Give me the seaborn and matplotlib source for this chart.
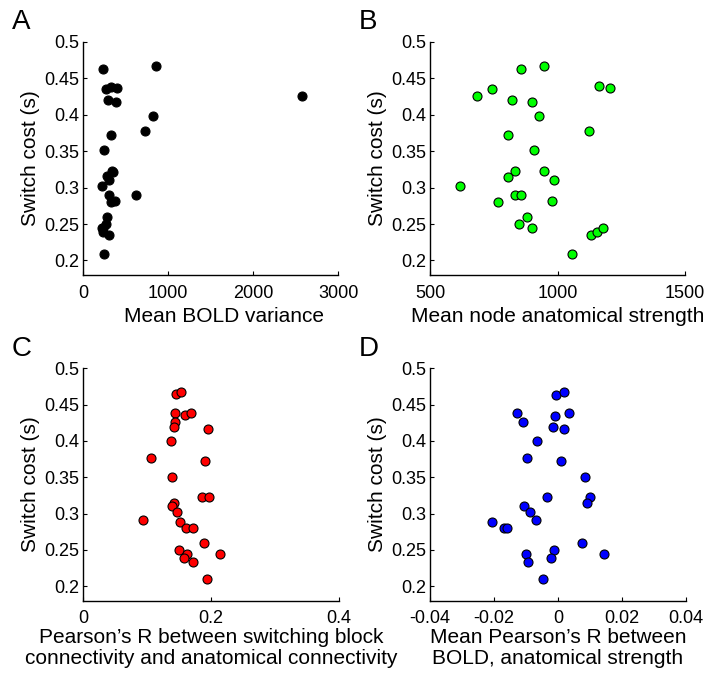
import matplotlib
matplotlib.use("Agg")
from matplotlib import pyplot as plt
import numpy as np
import pandas as pd
import seaborn as sns

# switch cost per subject
cost_a = [0.4635, 0.4667, 0.4348, 0.4384, 0.4365, 0.4197, 0.417, 0.399, 0.378, 0.372,
          0.351, 0.322, 0.3226, 0.3153, 0.310, 0.3025, 0.2897, 0.2897, 0.280, 0.281,
          0.2592, 0.250, 0.244, 0.2442, 0.2396, 0.235, 0.209, 0.4265]
bold_var = [228, 855, 263, 326, 393, 294, 385, 824, 730, 326,
            244, 349, 335, 283, 302, 224, 302, 616, 322, 373,
            283, 267, 216, 228, 235, 306, 244, 2569]

cost_b = [0.4635, 0.4672, 0.4389, 0.437, 0.4357, 0.4265, 0.4197, 0.417, 0.399, 0.378,
          0.372, 0.351, 0.3226, 0.3226, 0.3148, 0.3103, 0.3025, 0.2893, 0.2902, 0.2798,
          0.2811, 0.2592, 0.250, 0.2442, 0.235, 0.2387, 0.2442, 0.209]
anat_strength = [856, 948, 1164, 1206, 744, 683, 822, 898, 928, 1122,
                 807, 906, 948, 834, 807, 987, 618, 833, 856, 765,
                 979, 880, 849, 900, 1133, 1156, 1179, 1057]

cost_c = [0.4643, 0.468, 0.4383, 0.4355, 0.4383, 0.4263, 0.419, 0.4163, 0.4003, 0.377,
          0.372, 0.3505, 0.3235, 0.3235, 0.3148, 0.311, 0.3015, 0.2905, 0.2882, 0.280,
          0.280, 0.2599, 0.2503, 0.2448, 0.2439, 0.2384, 0.2339, 0.210]
r_switch_anat = [0.1453, 0.1531, 0.1443, 0.1589, 0.1688, 0.1438, 0.1422, 0.1948, 0.138, 0.1058,
                 0.1912, 0.1396, 0.185, 0.1964, 0.1417, 0.139, 0.1469, 0.0938, 0.1516, 0.1615,
                 0.1719, 0.1896, 0.1495, 0.2146, 0.162, 0.1573, 0.1719, 0.1943]

cost_d = [0.4638, 0.468, 0.4383, 0.4383, 0.435, 0.4259, 0.419, 0.4163, 0.4003, 0.377,
          0.372, 0.3505, 0.3235, 0.3235, 0.315, 0.311, 0.3015, 0.2905, 0.2882, 0.280,
          0.280, 0.2599, 0.2503, 0.2448, 0.2439, 0.2384, 0.2339, 0.210]
r_bold_anat = [-0.0006, 0.002, -0.0128, 0.0034, -0.0008, -0.0109, -0.0015, 0.0019, -0.0064, -0.0096,
               0.001, 0.0086, 0.0099, -0.0034, 0.0092, -0.0107, -0.0086, -0.0067, -0.0206, -0.0168,
               -0.0158, 0.0074, -0.0012, 0.0144, -0.01, -0.0021, -0.0092, -0.0048]

y_ticks = [0.2, 0.25, 0.3, 0.35, 0.4, 0.45, 0.5]
y_ticklabels = ["0.2", "0.25", "0.3", "0.35", "0.4", "0.45", "0.5"]

sns.set_style("ticks")
plt.rcParams["font.family"] = ["Liberation Sans", "DejaVu Sans"]
plt.rcParams["xtick.direction"] = "in"
plt.rcParams["ytick.direction"] = "in"
plt.rcParams["text.color"] = "black"
plt.rcParams["axes.labelcolor"] = "black"

fig = plt.figure(figsize=(7.18, 6.75), dpi=100)

panels = [
    ("A", bold_var, cost_a, "black", [0.116, 0.5926, 0.355, 0.3452],
     (0, 3000), [0, 1000, 2000, 3000], ["0", "1000", "2000", "3000"], "Mean BOLD variance"),
    ("B", anat_strength, cost_b, "#00ff00", [0.599, 0.5926, 0.355, 0.3452],
     (500, 1500), [500, 1000, 1500], ["500", "1000", "1500"], "Mean node anatomical strength"),
    ("C", r_switch_anat, cost_c, "red", [0.116, 0.110, 0.356, 0.3444],
     (0, 0.4), [0, 0.2, 0.4], ["0", "0.2", "0.4"],
     "Pearson\u2019s R between switching block\nconnectivity and anatomical connectivity"),
    ("D", r_bold_anat, cost_d, "blue", [0.599, 0.110, 0.356, 0.3444],
     (-0.04, 0.04), [-0.04, -0.02, 0, 0.02, 0.04], ["-0.04", "-0.02", "0", "0.02", "0.04"],
     "Mean Pearson\u2019s R between\nBOLD, anatomical strength"),
]

for letter, xs, ys, color, pos, xlim, xticks, xticklabels, xlabel in panels:
    ax = fig.add_axes(pos)
    df = pd.DataFrame({"x": xs, "y": ys})
    sns.scatterplot(data=df, x="x", y="y", ax=ax, color=color, s=42,
                    edgecolor="black", linewidth=0.8, legend=False, zorder=3)
    ax.set_xlim(*xlim)
    ax.set_ylim(0.18, 0.5)
    ax.set_xticks(xticks)
    ax.set_xticklabels(xticklabels)
    ax.set_yticks(y_ticks)
    ax.set_yticklabels(y_ticklabels)
    ax.tick_params(labelsize=13, length=3, width=0.8, pad=3, colors="black")
    ax.tick_params(axis="x", pad=7)
    two_line = "\n" in xlabel
    ax.set_xlabel(xlabel, fontsize=15, labelpad=0.5 if two_line else 4, linespacing=1.15)
    ax.set_ylabel("Switch cost (s)", fontsize=15, labelpad=3)
    if letter == "A":
        # label sits a little right of centre in the original
        ax.xaxis.label.set_x(0.552)
    for side in ["top", "right"]:
        ax.spines[side].set_visible(False)
    for side in ["left", "bottom"]:
        ax.spines[side].set_linewidth(1.0)
        ax.spines[side].set_color("black")
    fig.text(pos[0] - 0.1, pos[1] + pos[3] + 0.010, letter, fontsize=20, va="bottom", ha="left")

fig.savefig("out.png", dpi=100, facecolor="white")
